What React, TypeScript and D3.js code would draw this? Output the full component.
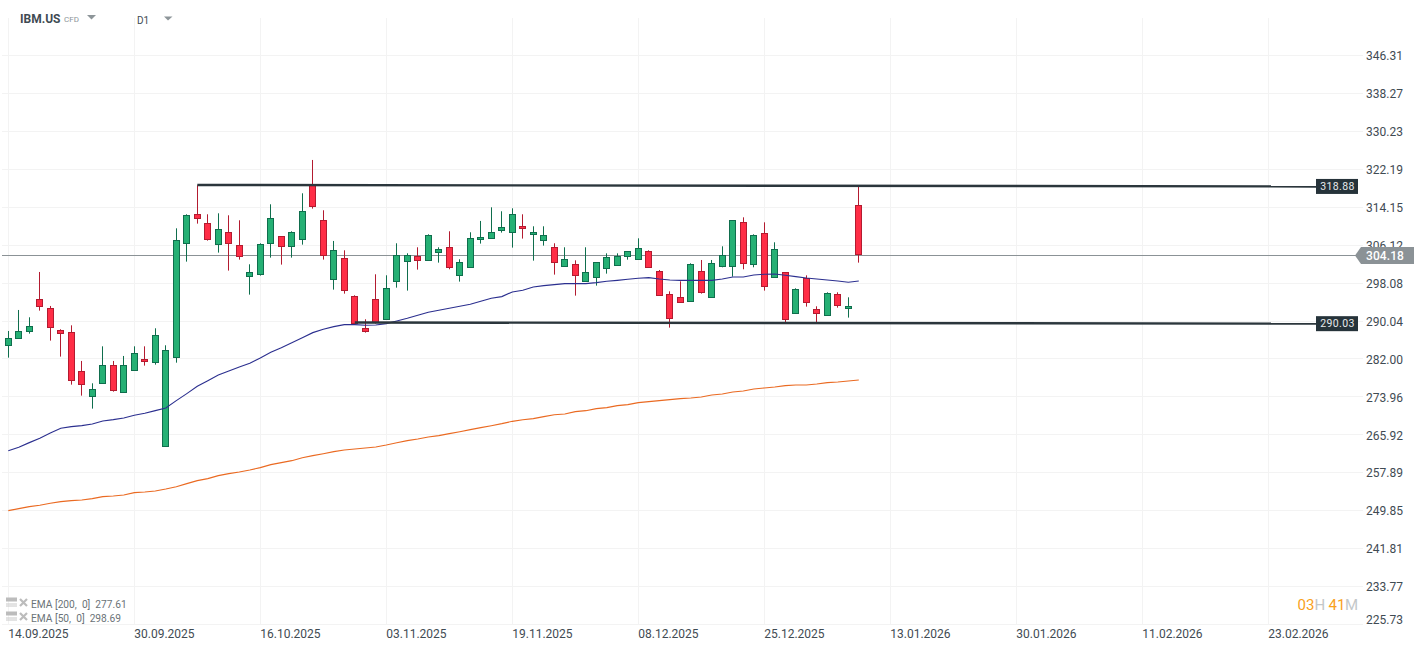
import React from 'react';
import * as d3 from 'd3';

const opens = [284.90, 286.38, 287.86, 294.64, 292.74, 288.07, 287.65, 279.39, 274.09, 276.85, 280.66, 274.94, 279.60, 281.93, 281.30, 263.50, 282.35, 306.51, 312.65, 310.74, 306.29, 308.84, 306.08, 299.52, 299.94, 306.51, 307.99, 305.87, 307.35, 319.01, 311.38, 298.88, 303.33, 295.28, 288.50, 294.64, 290.41, 298.46, 302.69, 303.75, 302.90, 304.60, 305.66, 299.73, 301.42, 307.35, 307.57, 309.26, 308.84, 310.11, 308.41, 307.14, 305.66, 301.63, 302.06, 298.46, 299.30, 301.21, 301.84, 303.75, 303.11, 304.81, 300.57, 295.70, 295.06, 294.22, 300.57, 295.06, 301.42, 301.63, 310.95, 302.05, 308.62, 299.30, 300.36, 291.67, 299.09, 292.52, 291.25, 295.70, 292.73, 314.55];
const closes = [286.38, 287.86, 288.92, 293.16, 288.71, 287.37, 277.48, 276.63, 275.57, 280.66, 275.36, 280.66, 283.20, 281.44, 287.02, 283.84, 307.14, 312.44, 311.80, 307.35, 309.47, 306.51, 303.75, 300.36, 306.29, 311.80, 305.87, 308.84, 313.29, 314.35, 303.96, 305.02, 296.55, 289.49, 287.86, 289.70, 296.97, 303.89, 303.89, 302.90, 308.20, 305.24, 301.42, 302.48, 307.57, 307.78, 308.84, 309.90, 312.65, 309.68, 308.84, 308.20, 302.48, 303.12, 299.73, 300.36, 302.48, 303.54, 303.75, 304.81, 305.44, 301.42, 295.49, 290.61, 294.00, 302.05, 296.12, 302.27, 303.82, 311.38, 302.27, 308.20, 297.39, 305.23, 290.40, 296.76, 294.00, 291.67, 295.91, 293.37, 293.16, 304.10];
const highs = [287.93, 292.38, 290.83, 300.43, 293.23, 288.29, 289.13, 281.58, 276.85, 284.68, 281.58, 282.64, 284.68, 284.68, 288.50, 284.90, 309.68, 312.65, 318.79, 312.65, 312.86, 312.44, 311.38, 302.06, 306.51, 314.77, 307.99, 309.05, 317.10, 324.16, 313.50, 307.00, 305.02, 295.49, 290.41, 299.94, 299.73, 306.51, 304.39, 305.66, 308.41, 305.66, 309.05, 303.12, 308.84, 311.24, 314.13, 313.29, 313.92, 312.65, 310.11, 310.11, 306.51, 305.66, 302.90, 305.66, 302.48, 304.38, 304.38, 304.81, 307.56, 305.02, 300.85, 296.33, 298.45, 302.27, 302.97, 302.97, 305.87, 311.38, 312.01, 308.41, 310.95, 306.72, 300.36, 296.97, 299.72, 293.16, 296.12, 296.12, 295.06, 318.65];
const lows = [282.28, 286.31, 287.37, 292.24, 285.89, 282.50, 276.56, 274.23, 271.48, 276.85, 275.08, 274.94, 279.60, 280.59, 280.80, 263.50, 281.22, 302.62, 310.67, 307.07, 304.53, 300.72, 303.05, 295.63, 299.66, 303.47, 301.99, 303.47, 306.22, 313.85, 303.05, 296.69, 295.84, 289.42, 287.58, 289.49, 290.41, 297.11, 296.48, 300.93, 302.90, 302.41, 301.00, 298.39, 301.42, 306.44, 307.57, 308.77, 305.59, 307.50, 302.83, 306.01, 299.87, 301.63, 295.42, 298.46, 297.54, 300.08, 301.84, 303.04, 303.11, 301.42, 295.49, 288.64, 294.00, 294.22, 295.84, 295.06, 301.42, 299.44, 301.00, 301.42, 296.48, 299.30, 289.77, 291.67, 293.09, 289.77, 291.25, 292.87, 290.76, 302.41];

const ema50 = [262.58, 263.29, 264.28, 265.19, 266.32, 267.31, 267.67, 267.88, 268.23, 268.87, 269.15, 269.50, 270.07, 270.49, 271.06, 271.62, 273.17, 274.66, 276.21, 277.41, 278.61, 279.46, 280.31, 281.08, 282.21, 283.41, 284.40, 285.46, 286.52, 287.58, 288.29, 288.85, 289.28, 289.28, 289.13, 289.20, 289.49, 290.05, 290.62, 291.25, 291.89, 292.31, 292.74, 293.16, 293.58, 294.22, 294.85, 295.21, 296.20, 296.55, 297.26, 297.54, 297.75, 297.96, 297.96, 297.96, 298.17, 298.45, 298.66, 298.88, 299.09, 299.23, 298.95, 298.74, 298.66, 298.66, 298.66, 298.66, 298.95, 299.37, 299.37, 299.79, 299.94, 300.01, 299.72, 299.44, 299.16, 298.95, 298.74, 298.52, 298.24, 298.52];
const ema200 = [249.87, 250.29, 250.72, 251.00, 251.42, 251.78, 251.99, 252.13, 252.41, 252.84, 252.98, 253.19, 253.68, 253.82, 254.04, 254.46, 254.95, 255.59, 256.23, 256.65, 257.29, 257.71, 258.06, 258.49, 258.98, 259.62, 260.04, 260.46, 261.09, 261.52, 261.94, 262.37, 262.72, 262.93, 263.14, 263.35, 263.78, 264.27, 264.70, 265.05, 265.47, 265.76, 266.18, 266.60, 267.03, 267.45, 267.87, 268.30, 268.79, 269.14, 269.36, 269.78, 270.20, 270.35, 270.84, 271.05, 271.48, 271.69, 272.11, 272.33, 272.75, 272.96, 273.17, 273.39, 273.60, 273.74, 273.95, 274.37, 274.59, 275.01, 275.22, 275.65, 275.86, 276.07, 276.35, 276.49, 276.49, 276.70, 276.99, 277.13, 277.34, 277.55];

const priceTicks = [346.31, 338.27, 330.23, 322.19, 314.15, 306.12, 298.08, 290.04, 282.0, 273.96, 265.92, 257.89, 249.85, 241.81, 233.77, 225.73];
const dateLabels = ['14.09.2025', '30.09.2025', '16.10.2025', '03.11.2025', '19.11.2025', '08.12.2025', '25.12.2025', '13.01.2026', '30.01.2026', '11.02.2026', '23.02.2026'];
const barsPerDate = 12;

const lastPrice = 304.0;
const lastPriceLabel = '304.18';
// trend levels: start/end bar, price at start/end, label
const upperLevel = { bars: [18, 124.6], prices: [318.86, 318.55], label: '318.88' };
const lowerLevel = { bars: [33, 124.6], prices: [289.73, 289.48], label: '290.03' };

const legendRows = ['EMA [200,  0]  277.61', 'EMA [50,  0]  298.69'];

const UP_FILL = '#25b074';
const UP_LINE = '#0f6e4d';
const DOWN_FILL = '#ff2d46';
const DOWN_LINE = '#b31b30';
const GRID = '#f3f3f3';
const TEXT = '#3f4b53';
const FONT = 'Roboto, sans-serif';

const x = d3.scaleLinear().domain([0, 120]).range([8.3, 1268.3]);
const y = d3.scaleLinear().domain([346.31, 225.73]).range([55.4, 624.6]);
const snap = (v: number) => Math.floor(v) + 0.5;

const emaLine = d3
  .line<number>()
  .x((_, i) => x(i))
  .y(d => y(d));

function PriceTag({ level }: { level: typeof upperLevel }) {
  const cy = y(level.prices[1]);
  return (
    <g>
      <rect x={1316} y={cy - 7.5} width={42} height={15} fill="#26333a" />
      <text
        x={1337.5}
        y={cy}
        dy="0.36em"
        textAnchor="middle"
        fontSize={10.5}
        letterSpacing={0.4}
        fill="#e6e9ea"
      >
        {level.label}
      </text>
    </g>
  );
}

export default function App() {
  const lastY = y(lastPrice);
  const lastYSnap = snap(lastY);

  return (
    <svg
      width={1426}
      height={650}
      style={{ position: 'absolute', left: 0, top: 0, background: '#fff' }}
      fontFamily={FONT}
    >
      {/* grid */}
      {dateLabels.map((_, i) => {
        const px = snap(x(i * barsPerDate));
        return <line key={i} x1={px} x2={px} y1={18} y2={625} stroke={GRID} />;
      })}
      {priceTicks.map(t => (
        <line key={t} x1={2} x2={1363} y1={snap(y(t))} y2={snap(y(t))} stroke={GRID} />
      ))}

      {/* last price line sits under the candles */}
      <line x1={2} x2={1356} y1={lastYSnap} y2={lastYSnap} stroke="#8b9296" />

      {/* candles */}
      {opens.map((o, i) => {
        const c = closes[i];
        const up = c >= o;
        const px = snap(x(i));
        const top = y(Math.max(o, c));
        const bottom = y(Math.min(o, c));
        return (
          <g key={i}>
            <line
              x1={px}
              x2={px}
              y1={y(highs[i])}
              y2={y(lows[i])}
              stroke={up ? UP_LINE : DOWN_LINE}
            />
            <rect
              x={px - 3}
              y={snap(top)}
              width={6}
              height={Math.max(1, Math.round(bottom - top))}
              fill={up ? UP_FILL : DOWN_FILL}
              stroke={up ? UP_LINE : DOWN_LINE}
            />
          </g>
        );
      })}

      {/* EMAs */}
      <path d={emaLine(ema200) ?? ''} fill="none" stroke="#ea6a22" strokeWidth={1.1} />
      <path d={emaLine(ema50) ?? ''} fill="none" stroke="#2b2f8f" strokeWidth={1.1} />

      {/* support / resistance */}
      {[upperLevel, lowerLevel].map(l => (
        <line
          key={l.label}
          x1={x(l.bars[0])}
          x2={x(l.bars[1])}
          y1={y(l.prices[0])}
          y2={y(l.prices[1])}
          stroke="#2b363c"
          strokeWidth={2.4}
        />
      ))}
      <PriceTag level={upperLevel} />
      <PriceTag level={lowerLevel} />

      {/* price axis */}
      {priceTicks.map((t, i) => (
        <text
          key={t}
          x={1366}
          y={y(t)}
          dy={i === priceTicks.length - 1 ? -4.5 : 0.7}
          dominantBaseline="central"
          fontSize={12}
          fill={TEXT}
        >
          {t.toFixed(2)}
        </text>
      ))}
      <path
        d={`M1355,${lastYSnap} L1361,${lastYSnap - 8.5} H1414 V${lastYSnap + 8.5} H1361 Z`}
        fill="#8b9296"
      />
      <text
        x={1366}
        y={lastYSnap}
        dy={0.5}
        dominantBaseline="central"
        fontSize={12}
        fontWeight={500}
        letterSpacing={0.1}
        fill="#fff"
      >
        {lastPriceLabel}
      </text>

      {/* date axis */}
      {dateLabels.map((d, i) => (
        <text key={d} x={x(i * barsPerDate)} y={638} fontSize={12} fill={TEXT}>
          {d}
        </text>
      ))}

      {/* header */}
      <text x={20} y={23} fontSize={12} fontWeight={700} fill={TEXT}>
        IBM.US
      </text>
      <text x={64} y={22} fontSize={8} fill="#8d9599">
        CFD
      </text>
      <path d="M87,15 H96 L91.5,19.5 Z" fill="#8d9599" />
      <text x={137} y={24} fontSize={10} fill={TEXT}>
        D1
      </text>
      <path d="M164,16.5 H172.5 L168,20.5 Z" fill="#8d9599" />

      {/* indicator legend */}
      {legendRows.map((row, i) => {
        const cy = 604 + i * 14;
        return (
          <g key={row}>
            <rect x={6} y={cy - 6.5} width={11} height={4} fill="#bcbcbc" />
            <path d={`M6,${cy} H17 M6,${cy + 2} H17`} stroke="#c8c8c8" />
            <path
              d={`M20,${cy - 5} L27,${cy + 2} M27,${cy - 5} L20,${cy + 2}`}
              stroke="#bcbcbc"
              strokeWidth={2.2}
            />
            <text x={31} y={cy + 4} fontSize={10.2} fill="#6b7378" xmlSpace="preserve">
              {row}
            </text>
          </g>
        );
      })}

      {/* session countdown */}
      <text y={610} fontSize={15}>
        <tspan x={1297.5} fill="#f9a11b">03</tspan>
        <tspan x={1314.5} fill="#c3c7c9">H</tspan>
        <tspan x={1328.5} fill="#f9a11b">41</tspan>
        <tspan x={1345} fill="#c3c7c9">M</tspan>
      </text>
    </svg>
  );
}
